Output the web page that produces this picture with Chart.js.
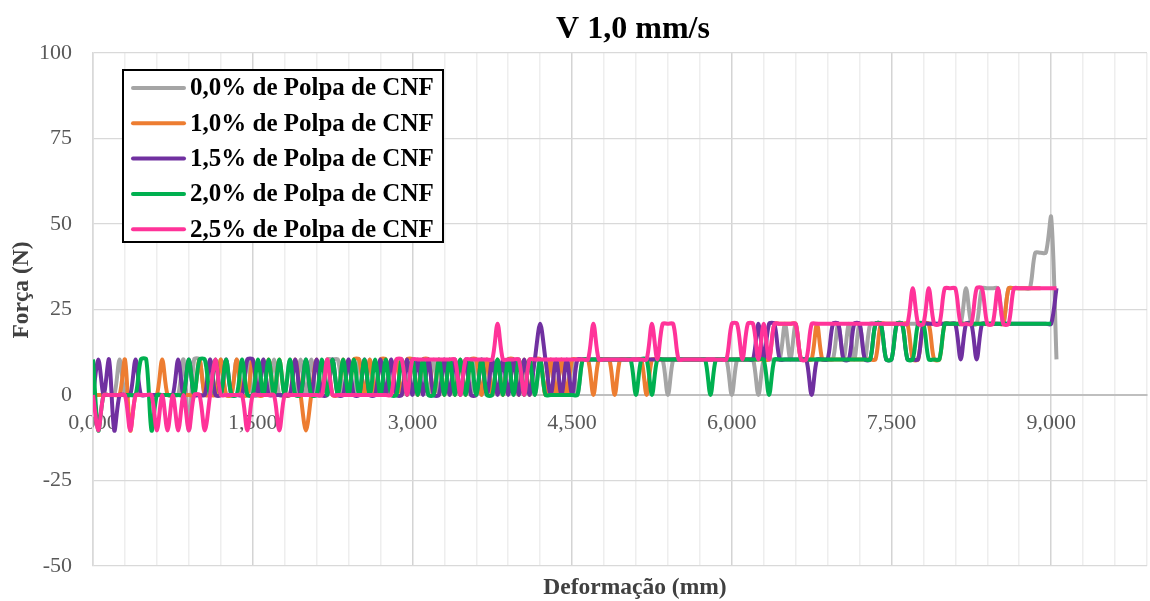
<!DOCTYPE html>
<html>
<head>
<meta charset="utf-8">
<title>V 1,0 mm/s</title>
<script src="https://cdn.jsdelivr.net/npm/chart.js@4.4.0/dist/chart.umd.min.js"></script>
<style>
  html, body { margin: 0; padding: 0; background: #fff; }
  canvas { display: block; }
</style>
</head>
<body>
<canvas id="grafico" width="1150" height="601"></canvas>
<script>
// leituras a cada 0,05 mm de deformação, força em N
const passo = 0.05;

const series = [
    '0,0% de Polpa de CNF',
    '1,0% de Polpa de CNF',
    '1,5% de Polpa de CNF',
    '2,0% de Polpa de CNF',
    '2,5% de Polpa de CNF'
];
const cores = ['#A5A5A5', '#ED7D31', '#7030A0', '#00B050', '#FF3399'];

const polpa00 = [
    0, 0, 0, 0, 0, 10.4, 0, 0, 0, 0,
    0, 0, 0, 0, 0, 0, 0, 10.4, -10.4, 10.4,
    10.4, 0, 10.4, 0, 10.4, 0, 0, 10.4, 0, 10.4,
    0, 0, 10.4, 0, 10.4, 0, 0, 10.4, 0, 10.4,
    0, 10.4, 0, 0, 10.4, 10.4, 10.4, 0, 10.4, 0,
    10.4, 0, 10.4, 0, 10.4, 0, 10.4, 0, 10.4, 0,
    10.4, 0, 10.4, 0, 10.4, 0, 10.4, 0, 10.4, 0,
    10.4, 0, 10.4, 0, 10.4, 0, 10.4, 0, 10.4, 0,
    10.4, 0, 10.4, 0, 10.4, 0, 10.4, 0, 10.4, 0,
    10.4, 0, 10.4, 10.4, 10.4, 10.4, 10.4, 10.4, 10.4, 10.4,
    10.4, 10.4, 10.4, 10.4, 10.4, 10.4, 10.4, 10.4, 0, 10.4,
    10.4, 10.4, 10.4, 10.4, 10.4, 10.4, 10.4, 10.4, 10.4, 10.4,
    0, 10.4, 10.4, 10.4, 10.4, 0, 10.4, 10.4, 10.4, 10.4,
    20.8, 10.4, 20.8, 10.4, 10.4, 10.4, 10.4, 10.4, 10.4, 10.4,
    20.8, 10.4, 20.8, 10.4, 20.8, 10.4, 20.8, 20.8, 20.8, 20.8,
    20.8, 20.8, 20.8, 20.8, 20.8, 20.8, 20.8, 20.8, 20.8, 20.8,
    20.8, 20.8, 20.8, 20.8, 31.2, 20.8, 20.8, 31.2, 31.2, 31.2,
    31.2, 20.8, 31.2, 31.2, 31.2, 31.2, 31.2, 41.6, 41.6, 41.6,
    52, 10.4
];

const polpa10 = [
    0, 0, 0, 0, 0, 0, 10.4, -10.4, 0, 0,
    0, 0, 0, 10.4, 0, 0, 0, 0, 0, 0,
    10.4, 0, 0, 0, 10.4, 0, 0, 10.4, 0, 0,
    10.4, 0, 0, 10.4, 0, 10.4, 0, 0, 10.4, 0,
    -10.4, 0, 10.4, 0, 10.4, 0, 0, 10.4, 0, 10.4,
    10.4, 0, 10.4, 0, 10.4, 10.4, 0, 10.4, 0, 10.4,
    10.4, 0, 10.4, 10.4, 0, 10.4, 0, 10.4, 0, 10.4,
    0, 10.4, 10.4, 0, 10.4, 0, 10.4, 0, 10.4, 10.4,
    0, 10.4, 0, 10.4, 10.4, 0, 10.4, 0, 10.4, 0,
    10.4, 10.4, 10.4, 10.4, 0, 10.4, 10.4, 10.4, 0, 10.4,
    10.4, 10.4, 10.4, 10.4, 0, 10.4, 10.4, 10.4, 10.4, 10.4,
    10.4, 10.4, 10.4, 10.4, 10.4, 10.4, 10.4, 10.4, 10.4, 10.4,
    10.4, 10.4, 10.4, 10.4, 10.4, 10.4, 10.4, 10.4, 20.8, 20.8,
    20.8, 20.8, 20.8, 10.4, 10.4, 10.4, 20.8, 10.4, 10.4, 10.4,
    10.4, 10.4, 10.4, 10.4, 10.4, 10.4, 10.4, 10.4, 20.8, 20.8,
    20.8, 20.8, 20.8, 20.8, 10.4, 10.4, 20.8, 20.8, 10.4, 10.4,
    20.8, 20.8, 20.8, 20.8, 20.8, 20.8, 20.8, 20.8, 20.8, 20.8,
    20.8, 20.8, 31.2, 31.2, 31.2, 31.2, 31.2, 31.2, 31.2
];

const polpa15 = [
    0, 10.4, 0, 10.4, -10.4, 0, 0, 0, 10.4, 0,
    0, 0, 0, 0, 0, 0, 10.4, 0, 10.4, 0,
    0, 0, 10.4, 0, 0, 10.4, 0, 0, 0, 10.4,
    10.4, 0, 10.4, 0, 0, 0, 0, 0, 10.4, 0,
    10.4, 0, 10.4, 0, 0, 10.4, 0, 0, 10.4, 0,
    0, 10.4, 0, 0, 10.4, 0, 10.4, 0, 0, 10.4,
    0, 10.4, 0, 10.4, 0, 0, 10.4, 0, 10.4, 0,
    10.4, 0, 0, 10.4, 0, 10.4, 0, 10.4, 0, 10.4,
    0, 10.4, 0, 10.4, 20.8, 10.4, 0, 10.4, 0, 10.4,
    0, 10.4, 10.4, 10.4, 10.4, 10.4, 10.4, 10.4, 10.4, 10.4,
    10.4, 10.4, 10.4, 10.4, 10.4, 10.4, 10.4, 10.4, 10.4, 10.4,
    10.4, 10.4, 10.4, 10.4, 10.4, 10.4, 10.4, 10.4, 10.4, 10.4,
    10.4, 10.4, 10.4, 10.4, 10.4, 20.8, 10.4, 20.8, 20.8, 10.4,
    10.4, 10.4, 10.4, 10.4, 10.4, 0, 10.4, 10.4, 10.4, 20.8,
    20.8, 10.4, 10.4, 20.8, 20.8, 10.4, 10.4, 20.8, 20.8, 10.4,
    10.4, 20.8, 20.8, 10.4, 10.4, 10.4, 20.8, 20.8, 20.8, 20.8,
    20.8, 20.8, 20.8, 10.4, 20.8, 20.8, 10.4, 20.8, 20.8, 20.8,
    20.8, 20.8, 20.8, 20.8, 20.8, 20.8, 20.8, 20.8, 20.8, 20.8,
    20.8, 31.2
];

const polpa20 = [
    10.4, -10.4, 0, 0, 0, 0, 0, 0, 0, 10.4,
    10.4, -10.4, 0, 0, 0, 0, 0, 0, 10.4, 0,
    10.4, 10.4, 0, 10.4, 0, 10.4, 0, 0, 10.4, 0,
    0, 10.4, 0, 10.4, 0, 10.4, 0, 10.4, 0, 0,
    10.4, 0, 0, 10.4, 0, 10.4, 0, 10.4, 0, 10.4,
    0, 10.4, 0, 10.4, 0, 10.4, 0, 0, 10.4, 0,
    10.4, 0, 10.4, 0, 0, 10.4, 0, 10.4, 0, 10.4,
    0, 10.4, 0, 10.4, 0, 0, 10.4, 0, 10.4, 0,
    10.4, 0, 10.4, 0, 10.4, 0, 0, 0, 0, 0,
    0, 0, 10.4, 10.4, 10.4, 10.4, 10.4, 10.4, 10.4, 10.4,
    10.4, 10.4, 0, 10.4, 10.4, 0, 10.4, 10.4, 10.4, 10.4,
    10.4, 10.4, 10.4, 10.4, 10.4, 10.4, 0, 10.4, 10.4, 10.4,
    10.4, 10.4, 10.4, 10.4, 10.4, 10.4, 10.4, 0, 10.4, 10.4,
    10.4, 10.4, 10.4, 10.4, 10.4, 10.4, 10.4, 10.4, 10.4, 10.4,
    10.4, 10.4, 10.4, 10.4, 10.4, 10.4, 10.4, 20.8, 20.8, 10.4,
    10.4, 20.8, 20.8, 10.4, 10.4, 20.8, 20.8, 10.4, 10.4, 10.4,
    20.8, 20.8, 20.8, 20.8, 20.8, 20.8, 20.8, 20.8, 20.8, 20.8,
    20.8, 20.8, 20.8, 20.8, 20.8, 20.8, 20.8, 20.8, 20.8, 20.8,
    20.8
];

const polpa25 = [
    0, -10.4, 0, 0, 0, 0, 0, -10.4, 0, 0,
    0, 0, -10.4, 0, -10.4, 0, -10.4, 0, -10.4, 0,
    0, -10.4, 0, 10.4, 0, 0, 0, 0, 0, -10.4,
    0, 0, 0, 0, 0, -10.4, 0, 0, 0, 0,
    0, 0, 0, 0, 10.4, 0, 0, 0, 0, 0,
    0, 0, 0, 0, 0, 0, 0, 10.4, 10.4, 0,
    10.4, 10.4, 10.4, 10.4, 10.4, 10.4, 10.4, 10.4, 10.4, 0,
    10.4, 10.4, 10.4, 10.4, 10.4, 10.4, 20.8, 10.4, 10.4, 10.4,
    10.4, 0, 10.4, 10.4, 10.4, 10.4, 10.4, 10.4, 10.4, 10.4,
    10.4, 10.4, 10.4, 10.4, 20.8, 10.4, 10.4, 10.4, 10.4, 10.4,
    10.4, 10.4, 10.4, 10.4, 10.4, 20.8, 10.4, 20.8, 20.8, 20.8,
    10.4, 10.4, 10.4, 10.4, 10.4, 10.4, 10.4, 10.4, 10.4, 10.4,
    20.8, 20.8, 10.4, 20.8, 20.8, 10.4, 20.8, 10.4, 20.8, 20.8,
    20.8, 20.8, 20.8, 10.4, 10.4, 20.8, 20.8, 20.8, 20.8, 20.8,
    20.8, 20.8, 20.8, 20.8, 20.8, 20.8, 20.8, 20.8, 20.8, 20.8,
    20.8, 20.8, 20.8, 20.8, 31.2, 20.8, 20.8, 31.2, 20.8, 20.8,
    31.2, 31.2, 31.2, 20.8, 20.8, 20.8, 31.2, 31.2, 20.8, 20.8,
    31.2, 20.8, 20.8, 31.2, 31.2, 31.2, 31.2, 31.2, 31.2, 31.2,
    31.2, 31.2
];

const fonte = '"Liberation Serif", "Times New Roman", serif';

// ensaios na ordem da legenda; a última série é desenhada por cima
const datasets = [polpa00, polpa10, polpa15, polpa20, polpa25].map((valores, k) => ({
    label: series[k],
    data: valores.map((y, i) => ({ x: +(i * passo).toFixed(2), y: y })),
    borderColor: cores[k],
    backgroundColor: cores[k],
    borderWidth: 4,
    pointRadius: 0,
    tension: 0.3,
    fill: false,
    order: 4 - k
}));

// título, nomes dos eixos e legenda com moldura
const textos = {
    id: 'textos',
    afterDraw(chart) {
        const ctx = chart.ctx;
        ctx.save();
        ctx.textAlign = 'center';
        ctx.textBaseline = 'middle';

        ctx.fillStyle = '#000';
        ctx.font = 'bold 32px ' + fonte;
        ctx.fillText('V 1,0 mm/s', 633, 30);

        ctx.fillStyle = '#404040';
        ctx.font = 'bold 23.5px ' + fonte;
        ctx.fillText('Deformação (mm)', 635, 588);
        ctx.save();
        ctx.translate(22, 290);
        ctx.rotate(-Math.PI / 2);
        ctx.fillText('Força (N)', 0, 0);
        ctx.restore();

        // legenda
        ctx.fillStyle = '#fff';
        ctx.fillRect(122, 69, 322, 174);
        ctx.strokeStyle = '#000';
        ctx.lineWidth = 2;
        ctx.strokeRect(123, 70, 320, 172);
        ctx.textAlign = 'left';
        ctx.font = 'bold 25px ' + fonte;
        chart.data.datasets.forEach((ds, i) => {
            const y = 88 + i * 35.3;
            ctx.strokeStyle = ds.borderColor;
            ctx.lineWidth = 4;
            ctx.lineCap = 'round';
            ctx.beginPath();
            ctx.moveTo(133, y);
            ctx.lineTo(184, y);
            ctx.stroke();
            ctx.fillStyle = '#000';
            ctx.fillText(ds.label, 190, y + 1);
        });
        ctx.restore();
    }
};

const ehPrincipal = v => Math.round(v / 0.3) % 5 === 0;

new Chart(document.getElementById('grafico').getContext('2d'), {
    type: 'line',
    data: { datasets: datasets },
    plugins: [textos],
    options: {
        responsive: false,
        animation: false,
        devicePixelRatio: 1,
        layout: { padding: { left: 0, right: 3, top: 53, bottom: 35 } },
        plugins: {
            legend: { display: false },
            title: { display: false },
            tooltip: { enabled: false }
        },
        scales: {
            x: {
                type: 'linear',
                min: 0,
                max: 9.9,
                position: { y: 0 },
                // o afastamento dos rótulos não deve encolher a área do gráfico
                afterFit: scale => { scale.paddingRight = 0; scale.paddingLeft = 0; },
                grid: {
                    drawTicks: false,
                    lineWidth: 1.5,
                    color: ctx => (ctx.tick && ehPrincipal(ctx.tick.value)) ? '#d4d4d4' : '#eeeeee'
                },
                border: { color: '#bfbfbf', width: 2 },
                ticks: {
                    stepSize: 0.3,
                    autoSkip: false,
                    maxRotation: 0,
                    padding: 15,
                    color: '#595959',
                    font: { family: fonte, size: 22 },
                    callback: v => ehPrincipal(v) ? v.toFixed(3).replace('.', ',') : ''
                }
            },
            y: {
                min: -50,
                max: 100,
                afterFit: scale => { scale.width = 93; },
                grid: { drawTicks: false, lineWidth: 1.3, color: '#d9d9d9' },
                border: { color: '#d9d9d9', width: 1.5 },
                ticks: {
                    stepSize: 25,
                    padding: 21,
                    color: '#595959',
                    font: { family: fonte, size: 22 }
                }
            }
        }
    }
});
</script>
</body>
</html>
